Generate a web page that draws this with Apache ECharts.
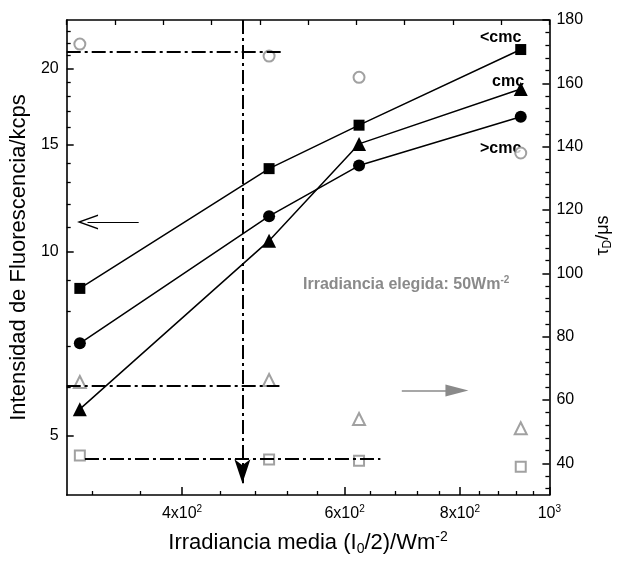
<!DOCTYPE html>
<html><head><meta charset="utf-8">
<script src="https://cdn.jsdelivr.net/npm/echarts@6/dist/echarts.min.js"></script>
<style>html,body{margin:0;padding:0;background:#fff}#c{width:622px;height:561px}</style>
</head><body><div id="c"></div>
<script>
// ---- data ----
const irradiance = [310, 497, 622, 931];
const intensityBelowCmc = [8.72, 13.7, 16.14, 21.47];   // filled squares  (<cmc)
const intensityAtCmc    = [5.53, 10.44, 15.04, 18.5];   // filled triangles (cmc)
const intensityAboveCmc = [7.09, 11.45, 13.86, 16.66];  // filled circles (>cmc)
const tauBelowCmc = [42.5, 41.2, 40.8, 38.9];            // open squares
const tauAtCmc    = [65.7, 66.3, 54.0, 51.1];            // open triangles
const tauAboveCmc = [172.4, 168.6, 161.9, 138.0];        // open circles

// ---- ticks ----
const xTicks = [400, 600, 800, 1000];
const xMinorTicks = [320, 360, 440, 480, 520, 560, 640, 680, 720, 760, 840, 880, 920, 960];
const leftTicks = [5, 10, 15, 20];
const leftMinorTicks = [6, 7, 8, 9, 11, 12, 13, 14, 16, 17, 18, 19, 21, 22, 23];
const rightTicks = [40, 60, 80, 100, 120, 140, 160, 180];
const rightMinorTicks = [32, 36, 44, 48, 52, 56, 64, 68, 72, 76, 84, 88, 92, 96, 104, 108, 112, 116,
  124, 128, 132, 136, 144, 148, 152, 156, 164, 168, 172, 176];

// ---- annotation positions (data space) ----
const chosenIrradiance = 465;
const guideTau = [170, 64.6, 41.5];
const guideFrom = [300, 300, 314];
const guideTo = [515, 510, 656];

const font = '"Liberation Sans", Arial, sans-serif';
const black = '#000';
const gray = '#8a8a8a';
const dashDot = [14, 4, 3, 4];

const zip = (xs, ys) => xs.map((x, i) => [x, ys[i]]);

const chart = echarts.init(document.getElementById('c'), null, {renderer: 'canvas'});

const lineSeries = (name, data, symbol, size, extra) => Object.assign({
  name, type: 'line', xAxisIndex: 0, yAxisIndex: 0, data: zip(irradiance, data),
  symbol, symbolSize: size, showSymbol: true,
  itemStyle: {color: black},
  lineStyle: {color: black, width: 1.5},
  emphasis: {disabled: true}, silent: true, z: 3
}, extra || {});

const scatterSeries = (name, data, symbol, size, extra) => Object.assign({
  name, type: 'scatter', xAxisIndex: 0, yAxisIndex: 1, data: zip(irradiance, data),
  symbol, symbolSize: size,
  itemStyle: {color: gray, borderWidth: 1.6},
  emphasis: {disabled: true}, silent: true, z: 4
}, extra || {});

const option = {
  animation: false,
  backgroundColor: '#fff',
  textStyle: {fontFamily: font},
  grid: {left: 63, right: 59, top: 20, bottom: 59, containLabel: false},
  xAxis: [
    {
      type: 'log', logBase: 10, min: 300, max: 1000, position: 'bottom',
      axisLine: {lineStyle: {color: black, width: 1.6}},
      axisTick: {inside: true, length: 8, customValues: xTicks, lineStyle: {color: black, width: 1.5}},
      axisLabel: {
        customValues: xTicks, margin: 9, color: black, fontFamily: font, fontSize: 16,
        formatter: v => v >= 1000 ? '10{s|3}' : (v / 100) + 'x10{s|2}',
        rich: {s: {fontSize: 10, fontFamily: font, color: black, padding: [0, 0, 10, 0]}}
      },
      splitLine: {show: false},
      name: 'Irradiancia media (I{sub|0}/2)/Wm{sup|-2}', nameLocation: 'middle', nameGap: 35,
      nameTextStyle: {
        fontFamily: font, fontSize: 22, color: black,
        rich: {
          sub: {fontSize: 14, fontFamily: font, color: black, padding: [12, 0, 0, 0]},
          sup: {fontSize: 14, fontFamily: font, color: black, padding: [0, 0, 12, 0]}
        }
      }
    },
    {
      type: 'log', logBase: 10, min: 300, max: 1000, position: 'bottom',
      axisLine: {show: false},
      axisTick: {inside: true, length: 4, customValues: xMinorTicks, lineStyle: {color: black, width: 1.3}},
      axisLabel: {show: false}, splitLine: {show: false}
    },
    {
      type: 'value', min: 0, max: 10, interval: 1, position: 'top',
      axisLine: {lineStyle: {color: black, width: 1.6}},
      axisTick: {inside: true, length: 5, lineStyle: {color: black, width: 1.3}},
      axisLabel: {show: false}, splitLine: {show: false}
    }
  ],
  yAxis: [
    {
      type: 'log', logBase: 10, min: 4, max: 24, position: 'left',
      axisLine: {lineStyle: {color: black, width: 1.6}},
      axisTick: {inside: true, length: 7, customValues: leftTicks, lineStyle: {color: black, width: 1.5}},
      axisLabel: {customValues: leftTicks, margin: 8, color: black, fontFamily: font, fontSize: 16},
      splitLine: {show: false},
      name: 'Intensidad de Fluorescencia/kcps', nameLocation: 'middle', nameGap: 25,
      nameTextStyle: {fontFamily: font, fontSize: 22, color: black}
    },
    {
      type: 'value', min: 30, max: 180, position: 'right',
      axisLine: {lineStyle: {color: black, width: 1.6}},
      axisTick: {inside: true, length: 7, customValues: rightTicks, lineStyle: {color: black, width: 1.5}},
      axisLabel: {customValues: rightTicks, margin: 7, color: black, fontFamily: font, fontSize: 16},
      splitLine: {show: false},
      name: '\u03c4{sub|D}/\u03bcs', nameLocation: 'middle', nameRotate: 90, nameGap: 40,
      nameTextStyle: {
        fontFamily: font, fontSize: 18, color: black, padding: [0, 0, 0, 44],
        rich: {sub: {fontSize: 12, fontFamily: font, color: black, padding: [10, 0, 0, 0]}}
      }
    },
    {
      type: 'log', logBase: 10, min: 4, max: 24, position: 'left',
      axisLine: {show: false},
      axisTick: {inside: true, length: 4, customValues: leftMinorTicks, lineStyle: {color: black, width: 1.3}},
      axisLabel: {show: false}, splitLine: {show: false}
    },
    {
      type: 'value', min: 30, max: 180, position: 'right',
      axisLine: {show: false},
      axisTick: {inside: true, length: 4, customValues: rightMinorTicks, lineStyle: {color: black, width: 1.3}},
      axisLabel: {show: false}, splitLine: {show: false}
    }
  ],
  series: [
    lineSeries('<cmc', intensityBelowCmc, 'rect', 11, {
      markLine: {
        silent: true, animation: false, symbol: ['none', 'none'],
        label: {show: false}, emphasis: {disabled: true},
        data: [
          [
            {coord: [chosenIrradiance, 24], symbol: 'none', lineStyle: {color: black, width: 2, type: dashDot}},
            {coord: [chosenIrradiance, 4.18], symbol: 'arrow', symbolSize: [12, 24]}
          ],
          [
            {coord: [359, 11.2], symbol: 'none', lineStyle: {color: black, width: 1.2, type: 'solid'}},
            {coord: [316, 11.2], symbol: 'path://M10,0 L20,20 L18,20 L10,4 L2,20 L0,20 Z', symbolSize: [15, 21]}
          ]
        ]
      }
    }),
    lineSeries('cmc', intensityAtCmc, 'triangle', 14),
    lineSeries('>cmc', intensityAboveCmc, 'circle', 12),
    scatterSeries('tau <cmc', tauBelowCmc, 'emptyRect', 10, {
      markLine: {
        silent: true, animation: false, symbol: ['none', 'none'],
        label: {show: false}, emphasis: {disabled: true},
        data: guideTau.map((t, i) => [
          {coord: [guideFrom[i], t], lineStyle: {color: black, width: 2, type: dashDot}},
          {coord: [guideTo[i], t]}
        ]).concat([[
          {coord: [692, 63], symbol: 'none', lineStyle: {color: gray, width: 1.6, type: 'solid'}},
          {coord: [794, 63], symbol: 'path://M5,0 L10,10 L0,10 Z', symbolSize: [12, 23]}
        ]])
      }
    }),
    scatterSeries('tau cmc', tauAtCmc, 'emptyTriangle', 12),
    scatterSeries('tau >cmc', tauAboveCmc, 'emptyCircle', 11)
  ],
  graphic: [
    {type: 'text', left: 480, top: 30, silent: true,
      style: {text: '<cmc', font: 'bold 16px ' + font, fill: black}},
    {type: 'text', left: 492, top: 74, silent: true,
      style: {text: 'cmc', font: 'bold 16px ' + font, fill: black}},
    {type: 'text', left: 480, top: 141, silent: true,
      style: {text: '>cmc', font: 'bold 16px ' + font, fill: black}},
    {type: 'text', left: 303, top: 275, silent: true,
      style: {
        text: 'Irradiancia elegida: 50Wm{sup|-2}', font: 'bold 16px ' + font, fill: gray,
        rich: {sup: {fontSize: 10, fontWeight: 'bold', fontFamily: font, fill: gray, padding: [0, 0, 10, 0]}}
      }}
  ]
};
chart.setOption(option);
</script>
</body></html>
